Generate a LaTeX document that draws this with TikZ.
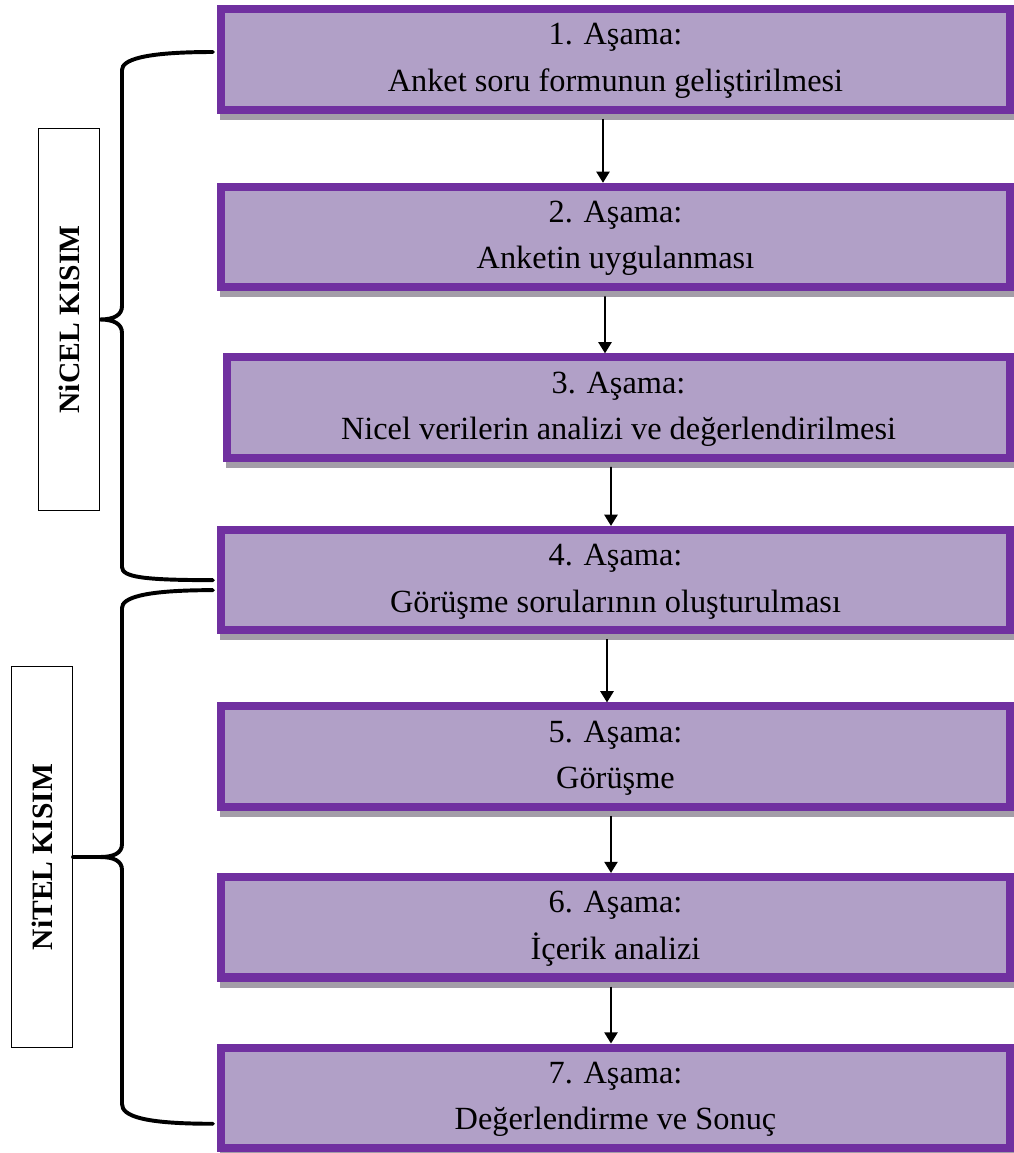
\documentclass[tikz,border=0pt]{standalone}
\usepackage{fontspec}
\setmainfont{Liberation Serif}
\usetikzlibrary{positioning,arrows.meta,shadows,calc}
\definecolor{stepviolet}{HTML}{7030A0}
\definecolor{stepfill}{HTML}{B1A0C7}
\definecolor{stepshade}{HTML}{A39DA8}

\begin{document}
\begin{tikzpicture}[
    x=0.025cm, y=-0.025cm,
    >=Stealth,
    every node/.style={font=\fontsize{23}{33}\selectfont},
    stage/.style={
        draw=stepviolet, fill=stepfill, line width=0.2cm,
        minimum width=19.725cm, minimum height=2.5125cm,
        inner sep=0pt, align=center, text depth=0.1cm,
        drop shadow={shadow xshift=0.075cm, shadow yshift=-0.15cm,
            fill=stepshade, draw=stepshade, opacity=1}
    },
    part/.style={
        draw=black, line width=0.9pt, fill=white,
        minimum width=1.52cm, minimum height=9.54cm, inner sep=0pt,
        font=\fontsize{21}{25}\selectfont\bfseries
    },
    arr/.style={-{Triangle[length=0.28cm, width=0.33cm]}, line width=1.4pt},
    brace/.style={line width=2.8pt, line cap=round},
]
\useasboundingbox (0,0) rectangle (1014,1153);

% === Stages ===
\node[stage] (s1) at (615.5,59.5)
    {1. Aşama:\\Anket soru formunun geliştirilmesi};
\node[stage, below=1.725cm of s1] (s2)
    {2. Aşama:\\Anketin uygulanması};
\node[stage, minimum width=19.575cm, below=1.55cm of s2, xshift=0.075cm] (s3)
    {3. Aşama:\\Nicel verilerin analizi ve değerlendirilmesi};
\node[stage, below=1.6cm of s3, xshift=-0.075cm] (s4)
    {4. Aşama:\\Görüşme sorularının oluşturulması};
\node[stage, below=1.7cm of s4] (s5)
    {5. Aşama:\\Görüşme};
\node[stage, below=1.55cm of s5] (s6)
    {6. Aşama:\\İçerik analizi};
\node[stage, below=1.55cm of s6] (s7)
    {7. Aşama:\\Değerlendirme ve Sonuç};

% === Part labels ===
\node[part] (nicel) at (69,319.5) {\rotatebox{90}{NiCEL KISIM}};
\node[part] (nitel) at (42,857) {\rotatebox{90}{NiTEL KISIM}};
\coordinate (cusp2) at (100,857);

% === Arrows ===
\draw[arr] ($(s1.south)+(-12.5,5)$) -- ($(s2.north)+(-12.5,0)$);
\draw[arr] ($(s2.south)+(-10.5,5)$) -- ($(s3.north)+(-13.5,0)$);
\draw[arr] ($(s3.south)+(-7.5,5)$) -- ($(s4.north)+(-4.5,0)$);
\draw[arr] ($(s4.south)+(-8.5,5)$) -- ($(s5.north)+(-8.5,0)$);
\draw[arr] ($(s5.south)+(-4.5,5)$) -- ($(s6.north)+(-4.5,0)$);
\draw[arr] ($(s6.south)+(-4.5,5)$) -- ($(s7.north)+(-4.5,0)$);

% === Braces ===
% Nicel
\draw[brace] ($(s1.west)+(-4,-7.5)$) .. controls +(-70,0) and +(0,-10) .. (122,70)
    -- (122,306) .. controls +(0,9) and +(14,0) .. (nicel.east)
    .. controls +(14,0) and +(0,-9) .. (122,333)
    -- (122,567) .. controls +(0,10) and +(-70,0) .. ($(s4.west)+(-4,0)$);
% Nitel
\draw[brace] ($(s4.west)+(-4,10)$) .. controls +(-70,0) and +(0,-10) .. (122,608)
    -- (122,844) .. controls +(0,9) and +(14,0) .. (cusp2)
    .. controls +(14,0) and +(0,-9) .. (122,870)
    -- (122,1104) .. controls +(0,12) and +(-70,0) .. ($(s7.west)+(-4,26)$);
\draw[brace] (cusp2) -- (nitel.east);

\end{tikzpicture}
\end{document}
